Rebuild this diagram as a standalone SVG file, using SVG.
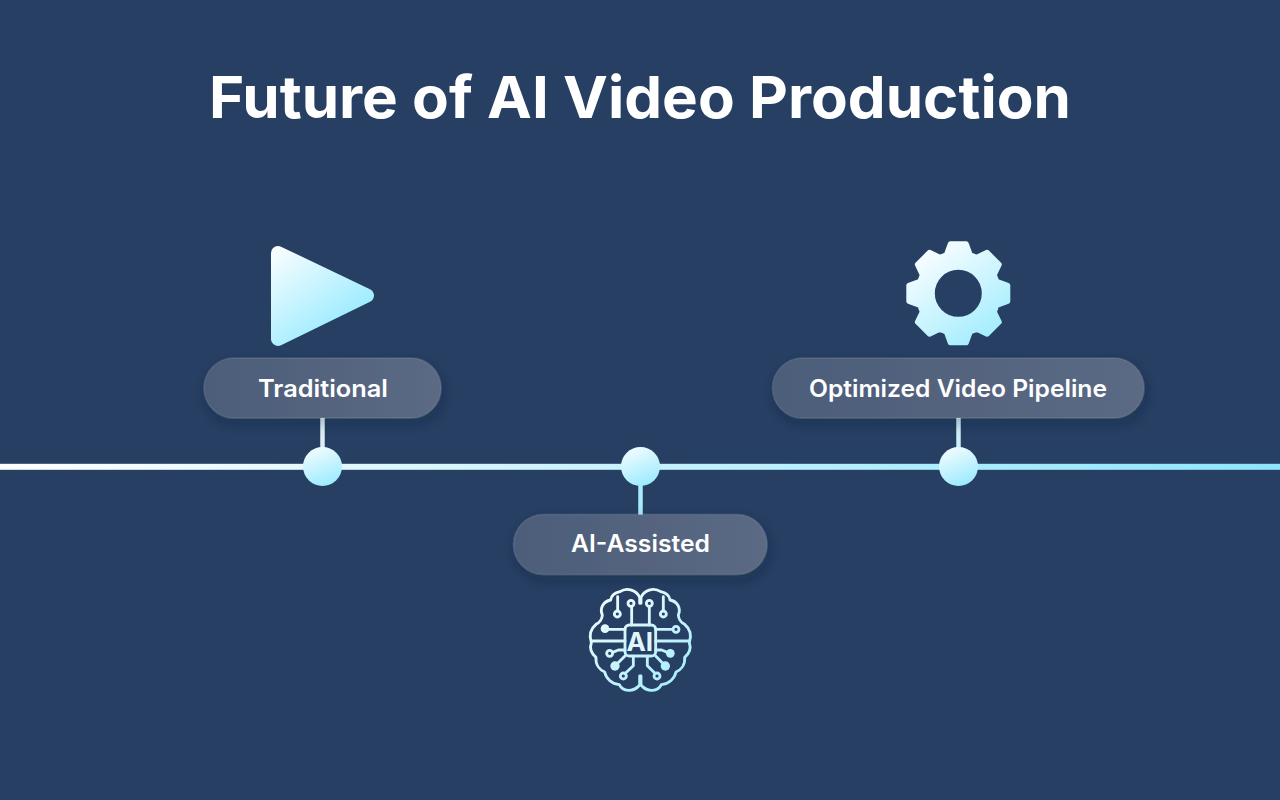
<svg xmlns="http://www.w3.org/2000/svg" width="1280" height="800" viewBox="0 0 1280 800">
<style>
.title{font-family:"Inter","Liberation Sans",sans-serif;font-weight:700;font-size:58px;fill:#fff}
.lbl{font-family:"Inter","Liberation Sans",sans-serif;font-weight:600;font-size:24px;fill:#fff;text-anchor:middle}
.pill{fill:url(#pillG);stroke:#fff;stroke-opacity:.1;stroke-width:1.5;filter:url(#sh)}
.dot{fill:url(#dotG)}
.stem{stroke-width:4.500;fill:none}
.br{fill:none;stroke-width:8.500;stroke-linecap:round;stroke-linejoin:round}
</style>
<defs>
<linearGradient id="lineG" gradientUnits="userSpaceOnUse" x1="0" y1="0" x2="1280" y2="0"><stop offset="0" stop-color="#fff"/><stop offset="1" stop-color="#8ee6fb"/></linearGradient>
<linearGradient id="pillG" x1="0" y1="0" x2="1" y2="0"><stop offset="0" stop-color="#4c5d79"/><stop offset="1" stop-color="#5b6a84"/></linearGradient>
<linearGradient id="dotG" x1=".25" y1="0" x2=".65" y2="1"><stop offset="0" stop-color="#f4fcff"/><stop offset="1" stop-color="#9aebff"/></linearGradient>
<linearGradient id="playG" gradientUnits="userSpaceOnUse" x1="272" y1="248" x2="335" y2="335"><stop offset="0" stop-color="#fbfeff"/><stop offset="1" stop-color="#9aebff"/></linearGradient>
<linearGradient id="gearG" gradientUnits="userSpaceOnUse" x1="-35" y1="-45" x2="30" y2="50"><stop offset="0" stop-color="#fbfeff"/><stop offset="1" stop-color="#a0ecfe"/></linearGradient>
<linearGradient id="brainG" gradientUnits="userSpaceOnUse" x1="70" y1="60" x2="300" y2="360"><stop offset="0" stop-color="#f8fdff"/><stop offset="1" stop-color="#a6edfe"/></linearGradient>
<filter id="sh" x="-15%" y="-30%" width="130%" height="170%"><feDropShadow dx="2" dy="5" stdDeviation="7" flood-color="#0d1c33" flood-opacity=".3"/></filter>
</defs>
<rect width="1280" height="800" fill="#263f63"/>
<text id="title" class="title" x="209" y="118" textLength="862" lengthAdjust="spacingAndGlyphs">Future of AI Video Production</text>
<g id="connectors">
<rect x="0" y="463.800" width="1280" height="6" fill="url(#lineG)"/>
<line class="stem" x1="322.500" y1="417" x2="322.500" y2="450" stroke="#dceff6"/>
<line class="stem" x1="640.500" y1="484" x2="640.500" y2="516" stroke="#a9ecfb"/>
<line class="stem" x1="958.500" y1="417" x2="958.500" y2="450" stroke="#cdeff7"/>
</g>
<g id="node-traditional">
<path d="M278 253 L367 295.500 L278 339 Z" fill="url(#playG)" stroke="url(#playG)" stroke-width="14" stroke-linejoin="round"/>
<rect class="pill" x="204" y="358" width="237" height="60" rx="30"/>
<text class="lbl" x="323" y="397" textLength="130" lengthAdjust="spacingAndGlyphs">Traditional</text>
<circle class="dot" cx="322.500" cy="466.500" r="19.500"/>
</g>
<g id="node-ai-assisted">
<rect class="pill" x="513.500" y="514.500" width="253.500" height="60" rx="30"/>
<text class="lbl" x="640.500" y="552" textLength="139" lengthAdjust="spacingAndGlyphs">AI-Assisted</text>
<circle class="dot" cx="640.500" cy="466.500" r="19.500"/>
<g transform="translate(570 570) scale(.33333)">
<g class="br" stroke="url(#brainG)">
<rect x="165" y="165" width="92" height="93" rx="13"/>
<path d="M209 100V82C200 62 172 50 150 65 134 68 124 78 122 90 100 94 88 115 97 135 96 150 88 158 78 163 60 178 58 200 64 218 58 235 64 250 78 262 76 285 90 300 104 306 108 325 125 342 148 344 158 365 190 368 209 345V318"/>
<path d="M213 100V82C222 62 250 50 272 65 288 68 298 78 300 90 322 94 334 115 325 135 326 150 334 158 344 163 362 178 364 200 358 218 364 235 358 250 344 262 346 285 332 300 318 306 314 325 297 342 274 344 264 365 232 368 213 345V318"/>
<path d="M185 165V112M238 165V112M143 122V80M280 122V80"/>
<path d="M105 178H165M257 178H308"/>
<path d="M66 213H165M257 213H358"/>
<path d="M128 247L145 240H165M292 247L275 240H257"/>
<path d="M140 283L165 258M281 283L257 258"/>
<path d="M166 310L190 287V259M255 310L232 287V259"/>
<circle cx="183" cy="100" r="9"/><circle cx="238" cy="100" r="9"/>
<circle cx="142" cy="132" r="9"/><circle cx="280" cy="132" r="9"/>
<circle cx="318" cy="178" r="9"/><circle cx="119" cy="250" r="9"/>
<circle cx="160" cy="318" r="9"/><circle cx="261" cy="318" r="9"/>
</g>
<g fill="url(#brainG)">
<circle cx="105" cy="176" r="13"/><circle cx="301" cy="250" r="13"/><circle cx="135" cy="288" r="14"/><circle cx="286" cy="288" r="14"/>
</g>
</g>
<text x="639.800" y="651" text-anchor="middle" font-family="Inter,'Liberation Sans',sans-serif" font-weight="700" font-size="26" fill="#dff6fc">AI</text>
</g>
<g id="node-optimized">
<g transform="translate(958.300 293.300)">
<path fill="url(#gearG)" stroke="url(#gearG)" stroke-width="5" stroke-linejoin="round" fill-rule="evenodd" d="M-12 -38.500L-8 -49.500L8 -49.500L12 -38.500L18.500 -36L28.800 -41L41 -28.800L36 -18.500L38.500 -12L49.500 -8L49.500 8L38.500 12L36 18.500L41 28.800L28.800 41L18.500 36L12 38.500L8 49.500L-8 49.500L-12 38.500L-18.500 36L-28.800 41L-41 28.800L-36 18.500L-38.500 12L-49.500 8L-49.500 -8L-38.500 -12L-36 -18.500L-41 -28.800L-28.800 -41L-18.500 -36ZM26 0A26 26 0 1 0 -26 0A26 26 0 1 0 26 0Z"/>
</g>
<rect class="pill" x="772.500" y="358" width="371.500" height="60" rx="30"/>
<text class="lbl" x="958" y="397" textLength="298" lengthAdjust="spacingAndGlyphs">Optimized Video Pipeline</text>
<circle class="dot" cx="958.500" cy="466.500" r="19.500"/>
</g>
</svg>
